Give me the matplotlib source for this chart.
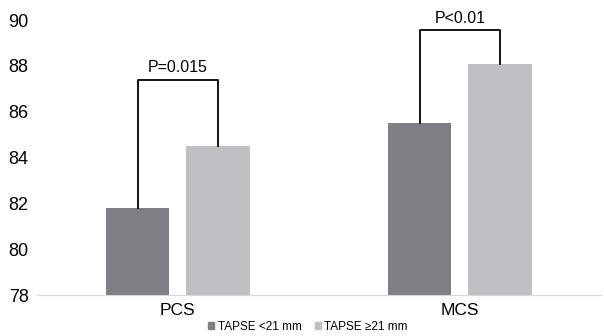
import numpy as np
import matplotlib.pyplot as plt
from matplotlib.patches import Patch

plt.rcParams['font.family'] = ['Liberation Sans', 'DejaVu Sans']

categorias = ['PCS', 'MCS']
tapse_bajo = [81.8, 85.5]
tapse_alto = [84.5, 88.1]
p_textos = ['P=0.015', 'P<0.01']
p_alturas = [87.4, 89.55]
series = ['TAPSE <21 mm', 'TAPSE ≥21 mm']

color_oscuro = '#7e7f83'
color_claro = '#bfc0c2'

fig = plt.figure(figsize=(6.04, 3.36), dpi=100)
ax = fig.add_axes([0.061, 0.122, 0.934, 0.818])

x = np.arange(len(categorias))
ancho = 0.226
desp = 0.143
ax.bar(x - desp, tapse_bajo, ancho, bottom=0, color=color_oscuro, zorder=2)
ax.bar(x + desp, tapse_alto, ancho, bottom=0, color=color_claro, zorder=2)

# corchetes de significancia
for i in range(len(categorias)):
    x1, x2 = x[i] - desp, x[i] + desp
    h = p_alturas[i]
    ax.plot([x1, x1, x2, x2], [tapse_bajo[i], h, h, tapse_alto[i]],
            color='black', lw=1.3, zorder=3)
    ax.text(x[i], h + 0.2, p_textos[i], ha='center', va='bottom', fontsize=11.5)

ax.set_ylim(78, 90)
ax.set_xlim(-0.5, 1.5)
ax.set_yticks(np.arange(78, 91, 2))
ax.set_xticks(x)
ax.set_xticklabels(categorias)
ax.tick_params(axis='y', length=0, pad=6, labelsize=13)
ax.tick_params(axis='x', length=0, pad=6, labelsize=12.5)
for s in ['top', 'right', 'left']:
    ax.spines[s].set_visible(False)
ax.spines['bottom'].set_color('#d9d9d9')

handles = [Patch(color=color_oscuro, label=series[0]),
           Patch(color=color_claro, label=series[1])]
fig.legend(handles=handles, loc='center', bbox_to_anchor=(0.51, 0.027), ncol=2,
           frameon=False, fontsize=8.5, handlelength=0.5, handleheight=0.5,
           handletextpad=0.3, columnspacing=1.1)

plt.savefig('out.png', dpi=100)
